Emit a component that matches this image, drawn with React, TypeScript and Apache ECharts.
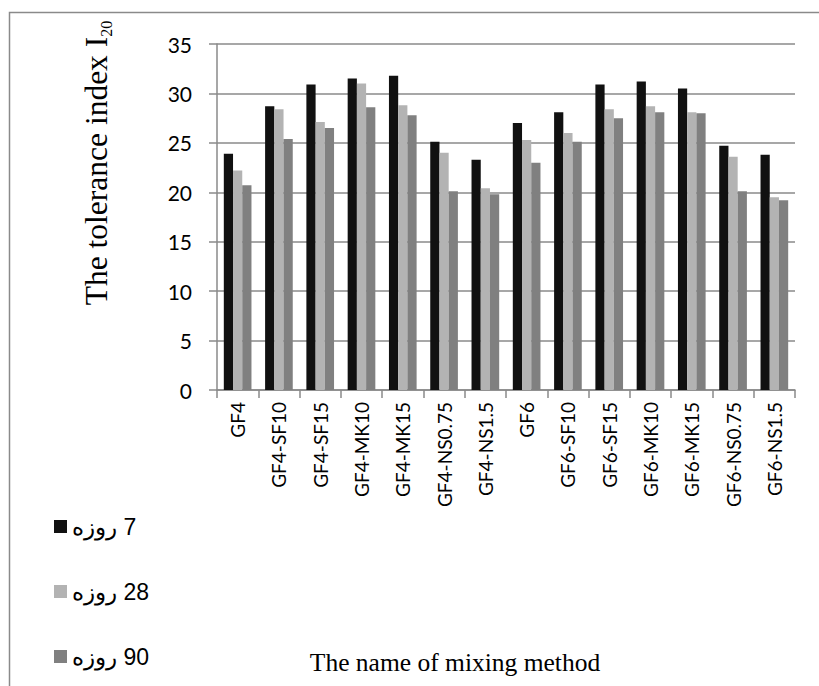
import React, { useEffect, useRef } from "react";
import * as echarts from "echarts";

const categories = [
  "GF4", "GF4-SF10", "GF4-SF15", "GF4-MK10", "GF4-MK15", "GF4-NS0.75", "GF4-NS1.5",
  "GF6", "GF6-SF10", "GF6-SF15", "GF6-MK10", "GF6-MK15", "GF6-NS0.75", "GF6-NS1.5",
];
const seriesNames = ["\u200F7 روزه", "\u200F28 روزه", "\u200F90 روزه"];
const day7 = [23.9, 28.7, 30.9, 31.5, 31.8, 25.1, 23.3, 27.0, 28.1, 30.9, 31.2, 30.5, 24.7, 23.8];
const day28 = [22.2, 28.4, 27.1, 31.0, 28.8, 24.0, 20.4, 25.3, 26.0, 28.4, 28.7, 28.1, 23.6, 19.5];
const day90 = [20.7, 25.4, 26.5, 28.6, 27.8, 20.1, 19.8, 23.0, 25.1, 27.5, 28.1, 28.0, 20.1, 19.2];
const yTicks = { min: 0, max: 35, interval: 5 };
const colors = ["#111111", "#b3b3b3", "#808080"];
const yTitle = "The tolerance index I";
const yTitleSub = "20";
const xTitle = "The name of mixing method";

const AXIS_COLOR = "#8a8a8a";
const SERIF = "'Liberation Serif', 'Times New Roman', serif";
const SANS = "Lato, 'Liberation Sans', Arial, sans-serif";

export default function App() {
  const ref = useRef<HTMLDivElement>(null);
  useEffect(() => {
    if (!ref.current) return;
    const chart = echarts.init(ref.current, null, { renderer: "svg" });
    const data = [day7, day28, day90];
    chart.setOption({
      animation: false,
      backgroundColor: "#ffffff",
      grid: { left: 217, right: 24, top: 44, bottom: 296, containLabel: false, outerBoundsMode: "none" },
      legend: {
        orient: "vertical",
        left: 49,
        top: 510,
        itemWidth: 13,
        itemHeight: 13,
        itemGap: 42,
        icon: "rect",
        data: seriesNames,
        textStyle: { fontSize: 23, lineHeight: 23, color: "#000", fontFamily: "'Liberation Sans', Arial, sans-serif" },
      },
      xAxis: {
        type: "category",
        data: categories,
        axisLine: { show: true, lineStyle: { color: AXIS_COLOR, width: 1.5 } },
        axisTick: { show: true, length: 8, lineStyle: { color: AXIS_COLOR, width: 1.5 } },
        axisLabel: { interval: 0, rotate: 90, margin: 12, fontSize: 19, color: "#000", fontFamily: SANS },
        splitLine: { show: false },
      },
      yAxis: {
        type: "value",
        min: yTicks.min,
        max: yTicks.max,
        interval: yTicks.interval,
        axisLine: { show: true, lineStyle: { color: AXIS_COLOR, width: 1.5 } },
        axisTick: { show: true, length: 8, lineStyle: { color: AXIS_COLOR, width: 1.5 } },
        axisLabel: { margin: 25, fontSize: 21, color: "#000", fontFamily: SANS },
        splitLine: { show: true, lineStyle: { color: AXIS_COLOR, width: 1.5 } },
      },
      series: seriesNames.map((name, i) => ({
        name,
        type: "bar",
        data: data[i],
        barGap: "0%",
        barCategoryGap: "33%",
        itemStyle: { color: colors[i] },
      })),
      graphic: [
        {
          type: "rect",
          silent: true,
          z: -10,
          shape: { x: 9.5, y: 12.5, width: 900, height: 800 },
          style: { fill: "none", stroke: AXIS_COLOR, lineWidth: 1.5 },
        },
        {
          type: "text",
          x: 96,
          y: 163,
          rotation: Math.PI / 2,
          style: {
            text: `{m|${yTitle}}{s|${yTitleSub}}`,
            align: "center",
            verticalAlign: "middle",
            fill: "#000",
            rich: {
              m: { fontSize: 31.5, lineHeight: 36, fontFamily: SERIF, verticalAlign: "middle" },
              s: { fontSize: 16, lineHeight: 16, fontFamily: SERIF, verticalAlign: "bottom" },
            },
          },
        },
        {
          type: "text",
          x: 455,
          y: 662,
          style: {
            text: xTitle,
            align: "center",
            verticalAlign: "middle",
            fill: "#000",
            fontSize: 25.5,
            fontFamily: SERIF,
          },
        },
      ],
    });
    return () => chart.dispose();
  }, []);
  return (
    <div
      ref={ref}
      style={{ position: "fixed", left: 0, top: 0, width: 819, height: 686 }}
    />
  );
}
